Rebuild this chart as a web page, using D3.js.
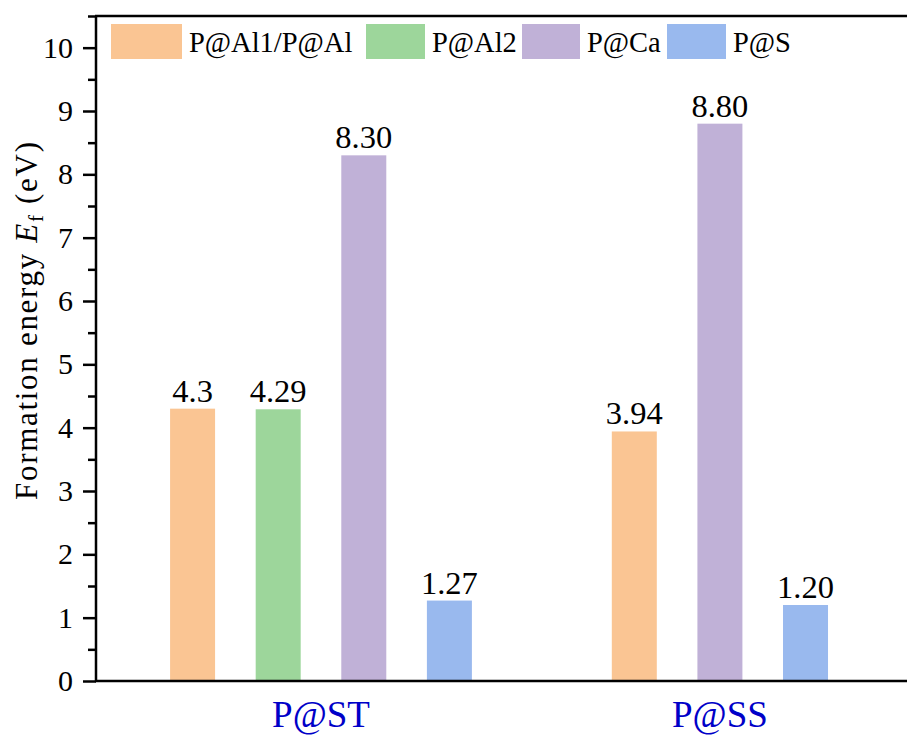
<!DOCTYPE html>
<html>
<head>
<meta charset="utf-8">
<script src="https://cdn.jsdelivr.net/npm/d3@7"></script>
</head>
<body style="margin:0">
<div id="container"></div>
<script>
	// data
	var groups = ["P@ST", "P@SS"];
	var series = ["P@Al1/P@Al", "P@Al2", "P@Ca", "P@S"];
	var colors = ["#FAC593", "#9DD69B", "#C0B1D7", "#99B9EE"];
	var valuesST = [4.3, 4.29, 8.30, 1.27];
	var valuesSS = [3.94, null, 8.80, 1.20];
	var labelsST = ["4.3", "4.29", "8.30", "1.27"];
	var labelsSS = ["3.94", "", "8.80", "1.20"];
	var yTicks = [0, 1, 2, 3, 4, 5, 6, 7, 8, 9, 10];

	var serifFont = "Liberation Serif";
	var width = 907, height = 736;
	var plotLeft = 96, plotRight = 907, plotTop = 16, plotBottom = 681;

	// scales
	var xScale = d3.scaleLinear()
		.domain([0.436, 2.469])
		.range([plotLeft, plotRight]);

	var yScale = d3.scaleLinear()
		.domain([0, 10.5])
		.range([plotBottom, plotTop]);

	var step = 0.2146, barW = 0.1128;

	var svg = d3.select("#container")
		.append("svg")
			.attr("width", width)
			.attr("height", height)
			.attr("font-family", serifFont);

	// build bar rows from the arrays
	var rows = [];
	[valuesST, valuesSS].forEach(function (vals, g) {
		var labs = g === 0 ? labelsST : labelsSS;
		var present = [];
		vals.forEach(function (v, i) { if (v !== null) present.push(i); });
		present.forEach(function (i, k) {
			var off = (k - (present.length - 1) / 2) * step;
			rows.push({ g: g, s: i, value: vals[i], label: labs[i], pos: g + 1 + off });
		});
	});

	// bars
	svg.selectAll(".bar")
		.data(rows)
		.enter()
		.append("rect")
			.attr("class", "bar")
			.attr("x", function (d) { return xScale(d.pos - barW / 2); })
			.attr("width", function (d) { return xScale(d.pos + barW / 2) - xScale(d.pos - barW / 2); })
			.attr("y", function (d) { return yScale(d.value); })
			.attr("height", function (d) { return yScale(0) - yScale(d.value); })
			.attr("fill", function (d) { return colors[d.s]; });

	// value labels
	svg.selectAll(".label")
		.data(rows)
		.enter()
		.append("text")
			.attr("class", "label")
			.attr("x", function (d) { return xScale(d.pos); })
			.attr("y", function (d) { return yScale(d.value) - 7; })
			.attr("text-anchor", "middle")
			.attr("font-family", serifFont)
			.attr("font-size", 32.5)
			.text(function (d) { return d.label; });

	// y axis, major and minor
	var yAxis = svg.append("g")
		.attr("transform", "translate(" + plotLeft + ",0)")
		.call(d3.axisLeft(yScale).tickValues(yTicks).tickSize(13).tickPadding(10).tickFormat(d3.format("d")));
	yAxis.attr("font-family", serifFont).attr("font-size", 30);
	yAxis.select(".domain").remove();
	yAxis.selectAll(".tick line").attr("stroke", "#000").attr("stroke-width", 2.5);
	yAxis.selectAll(".tick text").attr("fill", "#000").attr("font-family", serifFont);

	var minor = yTicks.map(function (t) { return t + 0.5; });
	var yMinor = svg.append("g")
		.attr("transform", "translate(" + plotLeft + ",0)")
		.call(d3.axisLeft(yScale).tickValues(minor).tickSize(8).tickFormat(""));
	yMinor.select(".domain").remove();
	yMinor.selectAll(".tick line").attr("stroke", "#000").attr("stroke-width", 2.5);

	// frame lines: left, bottom, top
	svg.append("line").attr("x1", plotLeft).attr("x2", plotLeft).attr("y1", plotTop).attr("y2", plotBottom + 1)
		.attr("stroke", "#000").attr("stroke-width", 2.5);
	svg.append("line").attr("x1", plotLeft - 1).attr("x2", plotRight).attr("y1", plotBottom).attr("y2", plotBottom)
		.attr("stroke", "#000").attr("stroke-width", 2.5);
	svg.append("line").attr("x1", plotLeft - 1).attr("x2", plotRight).attr("y1", plotTop).attr("y2", plotTop)
		.attr("stroke", "#000").attr("stroke-width", 2.5);

	// x category labels
	svg.selectAll(".xlab")
		.data(groups)
		.enter()
		.append("text")
			.attr("class", "xlab")
			.attr("x", function (d, i) { return xScale(i + 1); })
			.attr("y", 727)
			.attr("text-anchor", "middle")
			.attr("font-family", serifFont)
			.attr("font-size", 37)
			.attr("fill", "#0000C8")
			.text(function (d) { return d; });

	// y title
	var yt = svg.append("text")
		.attr("transform", "translate(37,321) rotate(-90)")
		.attr("text-anchor", "middle")
		.attr("font-family", serifFont)
		.attr("font-size", 31)
		.attr("textLength", 358)
		.attr("lengthAdjust", "spacing");
	yt.append("tspan").text("Formation energy ");
	yt.append("tspan").attr("font-style", "italic").text("E");
	yt.append("tspan").attr("dy", 6).attr("font-size", 21).text("f");
	yt.append("tspan").attr("dy", -6).text(" (eV)");

	// legend
	var legX = [111, 366, 522, 667];
	var legW = [71, 59, 58, 59];
	var leg = svg.selectAll(".legend")
		.data(series)
		.enter()
		.append("g")
			.attr("class", "legend");
	leg.append("rect")
		.attr("x", function (d, i) { return legX[i]; })
		.attr("y", 24)
		.attr("width", function (d, i) { return legW[i]; })
		.attr("height", 35)
		.attr("fill", function (d, i) { return colors[i]; });
	leg.append("text")
		.attr("x", function (d, i) { return legX[i] + legW[i] + 7; })
		.attr("y", 52)
		.attr("font-family", serifFont)
		.attr("font-size", 28.5)
		.text(function (d) { return d; });
</script>
</body>
</html>
